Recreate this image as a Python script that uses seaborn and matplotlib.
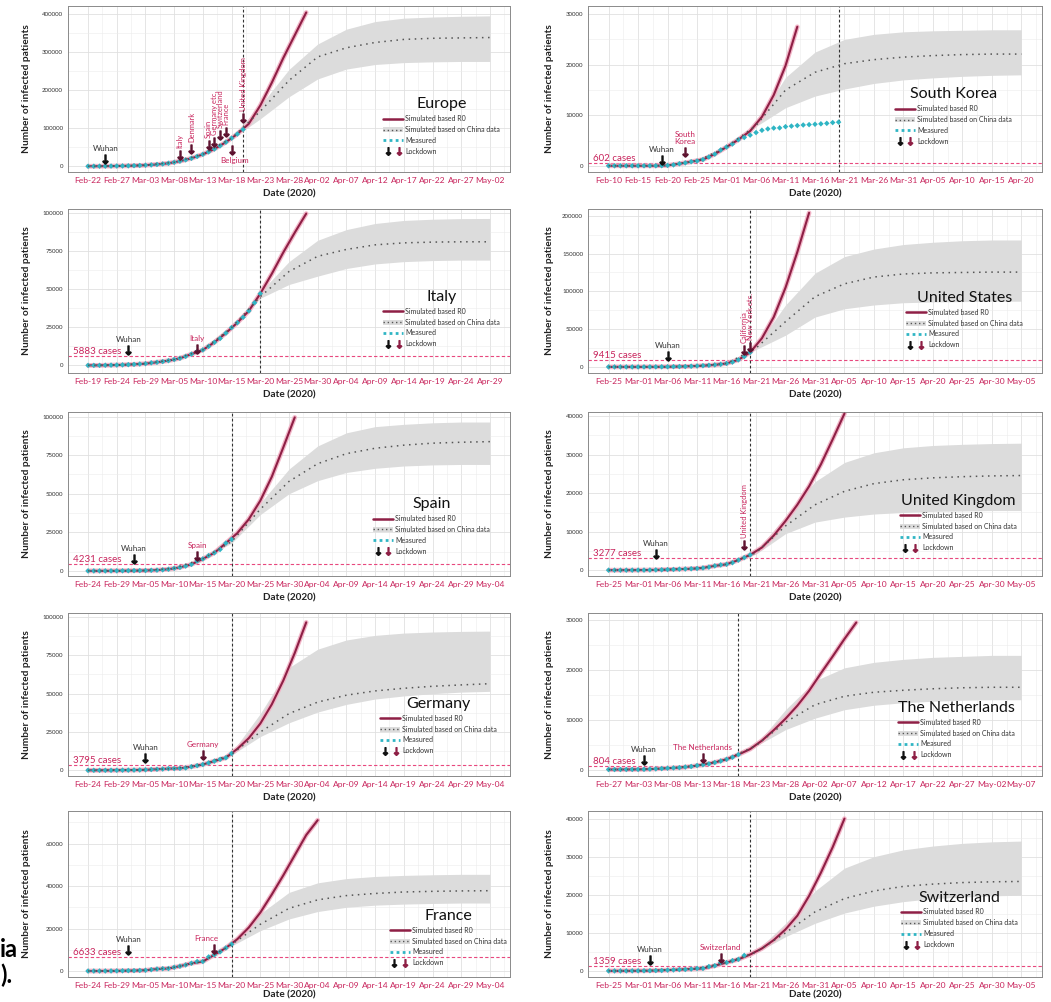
import pandas as pd
import numpy as np
import matplotlib
matplotlib.use("Agg")
import matplotlib.pyplot as plt
import matplotlib.dates as mdates
from matplotlib.lines import Line2D
from matplotlib.patches import Patch
from matplotlib.legend_handler import HandlerTuple
from matplotlib.ticker import FixedLocator, FuncFormatter
import seaborn as sns

# ---------------------------------------------------------------- data
LEGEND_LABELS = ["Simulated based R0", "Simulated based on China data", "Measured", "Lockdown"]
XLABEL = "Date (2020)"
YLABEL = "Number of infected patients"
LAST_DATA_DATE = "2020-03-20"
# measured: daily from tick start; R0 sim: every 2 days; China sim + band: every 5 days

EU_TICK_START = "2020-02-22"
EU_MEASURED = [150, 200, 300, 450, 600, 800, 1000, 1300, 1700, 2200, 2900, 3700, 4800, 6200, 8000,
               10500, 13500, 17000, 21000, 26000, 31500, 38000, 45500, 54000, 63500, 74000, 85000, 97000]
EU_R0 = [150, 300, 600, 1000, 1700, 2900, 4800, 8000, 13500, 21000, 31500, 45500, 63500, 85000,
         112000, 160000, 220000, 285000, 345000, 405000]
EU_CHINA = [150, 800, 2900, 10500, 31500, 74000, 145000, 226000, 288000, 312000, 326000, 334000, 337000, 338000, 339000]
EU_CHINA_LO = [150, 800, 2900, 10500, 31500, 72000, 125000, 183000, 230000, 256000, 268000, 273000, 275000, 276000, 276000]
EU_CHINA_HI = [150, 800, 2900, 10500, 31500, 78000, 160000, 255000, 322000, 361000, 381000, 390000, 393000, 395000, 396000]
EU_CASES = None
EU_LOCK_NAMES = ["Wuhan", "Italy", "Denmark", "Spain", "Germany etc.", "Switzerland", "France", "Belgium", "United Kingdom"]
EU_LOCK_DATES = ["2020-02-25", "2020-03-09", "2020-03-11", "2020-03-14", "2020-03-15", "2020-03-16",
                 "2020-03-17", "2020-03-18", "2020-03-20"]
EU_LOCK_Y = [19000, 30000, 45000, 56500, 65000, 82000, 91000, 43000, 126000]

SK_TICK_START = "2020-02-10"
SK_MEASURED = [27, 28, 28, 28, 28, 28, 29, 30, 31, 51, 104, 204, 433, 602, 833, 977, 1261, 1766, 2337, 3150,
               3736, 4335, 5186, 5621, 6088, 6593, 7041, 7314, 7478, 7513, 7755, 7869, 7979, 8086, 8162,
               8236, 8320, 8413, 8565, 8652]
SK_R0 = [27, 28, 28, 29, 31, 104, 433, 833, 1261, 2337, 3736, 5186, 6900, 9700, 14000, 19800, 27500]
SK_CHINA = [27, 28, 104, 977, 3736, 8000, 15000, 18500, 20200, 21000, 21500, 21800, 22000, 22100, 22100]
SK_CHINA_LO = [27, 28, 104, 977, 3736, 7800, 11500, 13800, 15200, 16300, 17000, 17400, 17700, 17900, 18000]
SK_CHINA_HI = [27, 28, 104, 977, 3736, 8300, 17500, 22500, 25000, 26000, 26500, 26700, 26800, 26900, 26900]
SK_CASES = 602
SK_LOCK_NAMES = ["Wuhan", "South\nKorea"]
SK_LOCK_DATES = ["2020-02-19", "2020-02-23"]
SK_LOCK_Y = [1260, 2800]

IT_TICK_START = "2020-02-19"
IT_MEASURED = [3, 3, 20, 79, 157, 229, 323, 470, 655, 889, 1128, 1694, 2036, 2502, 3089, 3858, 4636, 5883,
               7375, 9172, 10149, 12462, 15113, 17660, 21157, 24747, 27980, 31506, 35713, 41035, 47021]
IT_R0 = [3, 20, 157, 323, 655, 1128, 2036, 3089, 4636, 7375, 10149, 15113, 21157, 27980, 35713, 47021,
         60000, 74000, 87000, 99500]
IT_CHINA = [3, 229, 1128, 3858, 10149, 24747, 45000, 61500, 71500, 76000, 79000, 80300, 80800, 81000, 81000]
IT_CHINA_LO = [3, 229, 1128, 3858, 10149, 24747, 44000, 53000, 58500, 63500, 66500, 68000, 68700, 69000, 69000]
IT_CHINA_HI = [3, 229, 1128, 3858, 10149, 24747, 48000, 68000, 82000, 89000, 93000, 95000, 95800, 96200, 96300]
IT_CASES = 5883
IT_LOCK_NAMES = ["Wuhan", "Italy"]
IT_LOCK_DATES = ["2020-02-26", "2020-03-09"]
IT_LOCK_Y = [10300, 11000]

US_TICK_START = "2020-02-25"
US_MEASURED = [53, 57, 60, 60, 68, 74, 98, 118, 149, 217, 262, 402, 518, 583, 959, 1281, 1663, 2179, 2726,
               3499, 4632, 6421, 9415, 13747, 19273]
US_R0 = [53, 60, 68, 98, 149, 262, 518, 959, 1663, 2726, 4632, 9415, 19273, 38000, 66000, 105000, 152000, 204000]
US_CHINA = [53, 74, 262, 1281, 4632, 25000, 60000, 93000, 110000, 119000, 123000, 124500, 125000, 125500, 125500]
US_CHINA_LO = [53, 74, 262, 1281, 4632, 23000, 42000, 66000, 77000, 82000, 85000, 86000, 86500, 87000, 87000]
US_CHINA_HI = [53, 74, 262, 1281, 4632, 27000, 82000, 124000, 146000, 156000, 162000, 165000, 167000, 168000, 168000]
US_CASES = 9415
US_LOCK_NAMES = ["Wuhan", "California", "New York etc."]
US_LOCK_DATES = ["2020-03-06", "2020-03-19", "2020-03-20"]
US_LOCK_Y = [15000, 22000, 26500]

ES_TICK_START = "2020-02-24"
ES_MEASURED = [2, 6, 13, 15, 32, 45, 84, 120, 165, 222, 259, 400, 500, 673, 1073, 1695, 2277, 3146, 4231,
               6391, 7798, 9942, 11748, 13910, 17963, 20410]
ES_R0 = [2, 13, 32, 84, 165, 259, 500, 1073, 2277, 4231, 7798, 11748, 17963, 24500, 33500, 45500, 61000,
         80000, 99500]
ES_CHINA = [2, 45, 259, 1695, 7798, 19000, 40000, 58000, 69500, 76000, 79500, 81500, 82800, 83400, 83800]
ES_CHINA_LO = [2, 45, 259, 1695, 7798, 18000, 36500, 50000, 58500, 63800, 66500, 68000, 68700, 69000, 69000]
ES_CHINA_HI = [2, 45, 259, 1695, 7798, 20000, 44000, 66000, 81000, 89500, 93500, 95000, 96000, 96500, 96500]
ES_CASES = 4231
ES_LOCK_NAMES = ["Wuhan", "Spain"]
ES_LOCK_DATES = ["2020-03-03", "2020-03-14"]
ES_LOCK_Y = [7700, 9400]

UK_TICK_START = "2020-02-25"
UK_MEASURED = [13, 13, 15, 20, 23, 36, 40, 51, 85, 115, 163, 206, 273, 321, 382, 456, 590, 798, 1140, 1391,
               1543, 1950, 2626, 3277, 3983]
UK_R0 = [13, 15, 23, 40, 85, 163, 273, 382, 590, 1140, 1543, 2626, 3983, 5900, 9000, 12800, 17000, 21800,
         27500, 34000, 40700]
UK_CHINA = [13, 36, 163, 456, 1543, 4500, 11500, 17000, 20500, 22500, 23500, 24000, 24300, 24500, 24600]
UK_CHINA_LO = [13, 36, 163, 456, 1543, 4200, 9500, 12500, 13800, 14600, 15000, 15300, 15400, 15500, 15500]
UK_CHINA_HI = [13, 36, 163, 456, 1543, 4900, 14000, 23000, 28000, 30500, 31800, 32400, 32700, 32900, 33000]
UK_CASES = 3277
UK_LOCK_NAMES = ["Wuhan", "United Kingdom"]
UK_LOCK_DATES = ["2020-03-04", "2020-03-19"]
UK_LOCK_Y = [4200, 6500]

DE_TICK_START = "2020-02-24"
DE_MEASURED = [16, 17, 21, 26, 53, 66, 117, 150, 188, 240, 349, 534, 684, 847, 1112, 1139, 1296, 1567, 2369,
               3062, 3795, 4838, 6012, 7156, 8198, 10999]
DE_R0 = [16, 21, 53, 117, 188, 349, 684, 1112, 1296, 2369, 3795, 6012, 8198, 14000, 21000, 30500, 43000,
         58500, 76500, 96500]
DE_CHINA = [16, 66, 349, 1139, 3795, 10500, 25000, 37000, 44500, 49000, 51800, 53500, 54800, 55700, 56500]
DE_CHINA_LO = [16, 66, 349, 1139, 3795, 10000, 22000, 31000, 38000, 43000, 46500, 48500, 50000, 51000, 51500]
DE_CHINA_HI = [16, 66, 349, 1139, 3795, 11500, 37000, 67000, 79000, 85000, 88000, 89500, 90200, 90600, 90800]
DE_CASES = 3795
DE_LOCK_NAMES = ["Wuhan", "Germany"]
DE_LOCK_DATES = ["2020-03-05", "2020-03-15"]
DE_LOCK_Y = [8300, 10100]

NL_TICK_START = "2020-02-27"
NL_MEASURED = [1, 1, 6, 10, 18, 24, 38, 82, 128, 188, 265, 321, 382, 503, 614, 804, 959, 1135, 1413, 1705,
               2051, 2460, 2994]
NL_R0 = [1, 6, 18, 38, 128, 265, 382, 614, 959, 1413, 2051, 2994, 4100, 5800, 7900, 10200, 12800, 15800,
         19300, 22700, 26200, 29500]
NL_CHINA = [1, 24, 265, 804, 2051, 4800, 9500, 13000, 14700, 15500, 15900, 16200, 16400, 16500, 16500]
NL_CHINA_LO = [1, 24, 265, 804, 2051, 4700, 8000, 10300, 12000, 12900, 13400, 13700, 13900, 14000, 14000]
NL_CHINA_HI = [1, 24, 265, 804, 2051, 5000, 12000, 17800, 20400, 21500, 22100, 22500, 22700, 22900, 22900]
NL_CASES = 804
NL_LOCK_NAMES = ["Wuhan", "The Netherlands"]
NL_LOCK_DATES = ["2020-03-04", "2020-03-14"]
NL_LOCK_Y = [2000, 2400]

FR_TICK_START = "2020-02-24"
FR_MEASURED = [12, 14, 18, 38, 57, 100, 130, 191, 204, 285, 377, 653, 949, 1126, 1209, 1784, 2281, 2876,
               3661, 4469, 4499, 6633, 7652, 9043, 10871, 12612]
FR_R0 = [12, 18, 57, 130, 204, 377, 949, 1209, 2281, 3661, 4499, 7652, 10871, 15000, 20500, 27500, 36000,
         45000, 54500, 64000, 71000]
FR_CHINA = [12, 100, 377, 1784, 4499, 12500, 22000, 29500, 33500, 35500, 36500, 37200, 37500, 37700, 37800]
FR_CHINA_LO = [12, 100, 377, 1784, 4499, 11800, 19000, 24500, 28000, 30000, 31000, 31500, 31800, 32000, 32000]
FR_CHINA_HI = [12, 100, 377, 1784, 4499, 13200, 27000, 37000, 41500, 43500, 44500, 45000, 45300, 45500, 45500]
FR_CASES = 6633
FR_LOCK_NAMES = ["Wuhan", "France"]
FR_LOCK_DATES = ["2020-03-02", "2020-03-17"]
FR_LOCK_Y = [9800, 10300]

CH_TICK_START = "2020-02-25"
CH_MEASURED = [1, 1, 8, 8, 18, 27, 42, 56, 90, 114, 214, 268, 337, 374, 491, 652, 652, 1139, 1359, 2200,
               2200, 2700, 3028, 4075]
CH_R0 = [1, 8, 18, 42, 90, 214, 337, 491, 652, 1359, 2200, 3028, 4300, 5900, 8100, 10900, 14500, 19700,
         25800, 32500, 40000]
CH_CHINA = [1, 27, 214, 652, 2200, 4900, 10000, 15500, 19000, 21000, 22200, 22800, 23200, 23400, 23500]
CH_CHINA_LO = [1, 27, 214, 652, 2200, 4700, 9000, 12500, 15200, 17000, 18200, 19000, 19400, 19700, 19900]
CH_CHINA_HI = [1, 27, 214, 652, 2200, 5200, 12500, 21000, 27000, 30000, 31800, 32800, 33500, 33900, 34100]
CH_CASES = 1359
CH_LOCK_NAMES = ["Wuhan", "Switzerland"]
CH_LOCK_DATES = ["2020-03-03", "2020-03-15"]
CH_LOCK_Y = [2800, 3400]

# ---------------------------------------------------------------- style
CRIMSON = "#c8245c"
RED_LINE = "#8e1f45"
RED_HALO = "#f2b6c8"
GRAY_LINE = "#555555"
RIBBON = "#dcdcdc"
TEAL = "#2fb5c4"
ARROW = r"$\downarrow$"

sns.set_theme(style="white")
plt.rcParams["font.family"] = ["Lato", "DejaVu Sans"]

W, H = 1051, 1002
fig = plt.figure(figsize=(W / 100, H / 100), dpi=100)

COLS = [(68, 442), (588, 454)]
ROWS = [(6, 172), (209, 373), (412, 576), (613, 776), (811, 977)]

PANELS = [
    dict(name="Europe", start=EU_TICK_START, meas=EU_MEASURED, r0=EU_R0, ch=EU_CHINA, lo=EU_CHINA_LO,
         hi=EU_CHINA_HI, cases=EU_CASES, ylim=(-15000, 422000), ystep=100000,
         locks=(EU_LOCK_NAMES, EU_LOCK_DATES, EU_LOCK_Y),
         lstyle=["h", "v", "v", "v", "v", "v", "v", "below", "v"], leg=(0.713, 0.45)),
    dict(name="South Korea", start=SK_TICK_START, meas=SK_MEASURED, r0=SK_R0, ch=SK_CHINA, lo=SK_CHINA_LO,
         hi=SK_CHINA_HI, cases=SK_CASES, ylim=(-1200, 31600), ystep=10000,
         locks=(SK_LOCK_NAMES, SK_LOCK_DATES, SK_LOCK_Y), lstyle=["h", "h"], leg=(0.676, 0.51)),
    dict(name="Italy", start=IT_TICK_START, meas=IT_MEASURED, r0=IT_R0, ch=IT_CHINA, lo=IT_CHINA_LO,
         hi=IT_CHINA_HI, cases=IT_CASES, ylim=(-5000, 102500), ystep=25000,
         locks=(IT_LOCK_NAMES, IT_LOCK_DATES, IT_LOCK_Y), lstyle=["h", "h"], leg=(0.713, 0.506)),
    dict(name="United States", start=US_TICK_START, meas=US_MEASURED, r0=US_R0, ch=US_CHINA, lo=US_CHINA_LO,
         hi=US_CHINA_HI, cases=US_CASES, ylim=(-8000, 209000), ystep=50000,
         locks=(US_LOCK_NAMES, US_LOCK_DATES, US_LOCK_Y), lstyle=["h", "v", "v"], leg=(0.70, 0.50)),
    dict(name="Spain", start=ES_TICK_START, meas=ES_MEASURED, r0=ES_R0, ch=ES_CHINA, lo=ES_CHINA_LO,
         hi=ES_CHINA_HI, cases=ES_CASES, ylim=(-3300, 103000), ystep=25000,
         locks=(ES_LOCK_NAMES, ES_LOCK_DATES, ES_LOCK_Y), lstyle=["h", "h"], leg=(0.69, 0.48)),
    dict(name="United Kingdom", start=UK_TICK_START, meas=UK_MEASURED, r0=UK_R0, ch=UK_CHINA, lo=UK_CHINA_LO,
         hi=UK_CHINA_HI, cases=UK_CASES, ylim=(-1500, 41100), ystep=10000,
         locks=(UK_LOCK_NAMES, UK_LOCK_DATES, UK_LOCK_Y), lstyle=["h", "v"], leg=(0.687, 0.50)),
    dict(name="Germany", start=DE_TICK_START, meas=DE_MEASURED, r0=DE_R0, ch=DE_CHINA, lo=DE_CHINA_LO,
         hi=DE_CHINA_HI, cases=DE_CASES, ylim=(-3700, 102600), ystep=25000,
         locks=(DE_LOCK_NAMES, DE_LOCK_DATES, DE_LOCK_Y), lstyle=["h", "h"], leg=(0.706, 0.485)),
    dict(name="The Netherlands", start=NL_TICK_START, meas=NL_MEASURED, r0=NL_R0, ch=NL_CHINA, lo=NL_CHINA_LO,
         hi=NL_CHINA_HI, cases=NL_CASES, ylim=(-1300, 31400), ystep=10000,
         locks=(NL_LOCK_NAMES, NL_LOCK_DATES, NL_LOCK_Y), lstyle=["h", "h"], leg=(0.683, 0.46)),
    dict(name="France", start=FR_TICK_START, meas=FR_MEASURED, r0=FR_R0, ch=FR_CHINA, lo=FR_CHINA_LO,
         hi=FR_CHINA_HI, cases=FR_CASES, ylim=(-2800, 75300), ystep=20000,
         locks=(FR_LOCK_NAMES, FR_LOCK_DATES, FR_LOCK_Y), lstyle=["h", "hl"], leg=(0.728, 0.41)),
    dict(name="Switzerland", start=CH_TICK_START, meas=CH_MEASURED, r0=CH_R0, ch=CH_CHINA, lo=CH_CHINA_LO,
         hi=CH_CHINA_HI, cases=CH_CASES, ylim=(-1600, 42000), ystep=10000,
         locks=(CH_LOCK_NAMES, CH_LOCK_DATES, CH_LOCK_Y), lstyle=["h", "h"], leg=(0.69, 0.52)),
]


def draw(ax, p, col, last_row):
    start = pd.Timestamp(p["start"])
    ticks = pd.date_range(start, periods=15, freq="5D")
    df_meas = pd.DataFrame({"date": pd.date_range(start, periods=len(p["meas"]), freq="D"), "cases": p["meas"]})
    df_r0 = pd.DataFrame({"date": pd.date_range(start, periods=len(p["r0"]), freq="2D"), "cases": p["r0"]})
    df_ch = pd.DataFrame({"date": pd.date_range(start, periods=len(p["ch"]), freq="5D"),
                          "cases": p["ch"], "lo": p["lo"], "hi": p["hi"]})

    ax.fill_between(df_ch["date"], df_ch["lo"], df_ch["hi"], color=RIBBON, lw=0, zorder=1)
    if p["cases"] is not None:
        ax.axhline(p["cases"], color="#e8487e", lw=0.8, linestyle=(0, (3, 2)), zorder=1.5)
        ax.text(0.012, p["cases"], f"{p['cases']} cases", transform=ax.get_yaxis_transform(),
                color=CRIMSON, fontsize=7, va="bottom", ha="left", zorder=8)
    ax.axvline(pd.Timestamp(LAST_DATA_DATE), color="#333333", lw=0.8, linestyle=(0, (2.5, 2)), zorder=1.5)

    sns.lineplot(data=df_r0, x="date", y="cases", ax=ax, color=RED_HALO, linewidth=3.4, zorder=2)
    sns.lineplot(data=df_r0, x="date", y="cases", ax=ax, color=RED_LINE, linewidth=1.5, zorder=3)
    sns.scatterplot(data=df_meas, x="date", y="cases", ax=ax, color=TEAL, marker="D", s=8,
                    edgecolor="none", zorder=4)
    sns.lineplot(data=df_ch, x="date", y="cases", ax=ax, color=GRAY_LINE, linewidth=1.1,
                 linestyle=(0, (1, 3)), zorder=5)

    names, dates, ys = p["locks"]
    for nm, dt, yv, st in zip(names, dates, ys, p["lstyle"]):
        xd = mdates.date2num(pd.Timestamp(dt))
        mcol = "#111111" if nm == "Wuhan" else "#5e1330"
        tcol = "#333333" if nm == "Wuhan" else CRIMSON
        ax.plot([pd.Timestamp(dt)], [yv], marker=ARROW, ms=6.5, color=mcol, linestyle="none", zorder=7)
        if st == "v":
            ax.annotate(nm, (xd, yv), xytext=(0, 5), textcoords="offset points", rotation=90,
                        ha="center", va="bottom", fontsize=5.4, color=tcol, zorder=8)
        elif st == "below":
            ax.annotate(nm, (xd, yv), xytext=(2, -5), textcoords="offset points",
                        ha="center", va="top", fontsize=5.8, color=tcol, zorder=8)
        elif st == "hl":
            ax.annotate(nm, (xd, yv), xytext=(-6, 5), textcoords="offset points",
                        ha="center", va="bottom", fontsize=5.8, color=tcol, zorder=8)
        else:
            ax.annotate(nm, (xd, yv), xytext=(0, 5), textcoords="offset points",
                        ha="center", va="bottom", fontsize=5.8, color=tcol, zorder=8,
                        linespacing=0.9)

    # axes
    ax.set_xlim(start - pd.Timedelta(days=3.5), ticks[-1] + pd.Timedelta(days=3.5))
    ax.set_xticks(ticks)
    ax.set_xticklabels([d.strftime("%b-%d") for d in ticks])
    ax.xaxis.set_minor_locator(FixedLocator(mdates.date2num(ticks + pd.Timedelta(hours=60))))
    ylo, yhi = p["ylim"]
    ax.set_ylim(ylo, yhi)
    yt = np.arange(0, yhi, p["ystep"])
    ax.set_yticks(yt)
    ax.yaxis.set_minor_locator(FixedLocator(yt + p["ystep"] / 2))
    ax.yaxis.set_major_formatter(FuncFormatter(lambda v, pos: f"{int(round(v))}"))
    ax.set_axisbelow(True)
    ax.grid(which="major", color="#e0e0e0", lw=0.6)
    ax.grid(which="minor", color="#ececec", lw=0.4)
    ax.tick_params(axis="x", which="major", labelsize=6.1, labelcolor=CRIMSON, length=2, width=0.5,
                   color="#999999", pad=1.5)
    ax.tick_params(axis="y", which="major", labelsize=4.4, labelcolor="#333333", length=2, width=0.5,
                   color="#999999", pad=1.5)
    ax.tick_params(which="minor", length=0)
    for s in ax.spines.values():
        s.set_color("#8a8a8a")
        s.set_linewidth(0.7)
    ax.set_xlabel(XLABEL, fontsize=7.2, fontweight="bold", color="#222222")
    ax.set_ylabel(YLABEL, fontsize=7.3, fontweight="bold", color="#222222")
    ax.xaxis.set_label_coords(0.5, -0.082 if last_row else -0.105)
    ax.yaxis.set_label_coords(-0.083 if col == 0 else -0.075, 0.5)

    # legend
    h_red = Line2D([], [], color=RED_LINE, lw=1.8)
    h_gray = (Patch(facecolor=RIBBON, edgecolor="none"),
              Line2D([], [], color=GRAY_LINE, lw=1.0, linestyle=(0, (1, 2))))
    h_meas = Line2D([], [], color=TEAL, lw=2.0, linestyle=(0, (1, 1.2)))
    h_lock = (Line2D([], [], color="#111111", marker=ARROW, linestyle="none", ms=5.5),
              Line2D([], [], color="#8e1f45", marker=ARROW, linestyle="none", ms=5.5))
    leg = ax.legend([h_red, h_gray, h_meas, h_lock], LEGEND_LABELS,
                    handler_map={h_gray: HandlerTuple(ndivide=1), h_lock: HandlerTuple(ndivide=None, pad=0.2)},
                    title=p["name"], title_fontsize=11.5, fontsize=5.0, loc="upper left",
                    bbox_to_anchor=p["leg"], frameon=False, handlelength=2.9, handletextpad=0.3,
                    labelspacing=0.55, borderpad=0, borderaxespad=0)
    for t in leg.get_texts():
        t.set_color("#333333")
    leg.get_title().set_color("#111111")
    leg.set_zorder(9)


for i, p in enumerate(PANELS):
    r, c = divmod(i, 2)
    x0, w = COLS[c]
    top, bot = ROWS[r]
    ax = fig.add_axes([x0 / W, 1 - bot / H, w / W, (bot - top) / H])
    draw(ax, p, c, r == len(ROWS) - 1)

# fragments of surrounding page text (cropped)
fig.text(0.0, 1 - 957 / H, "ia", fontsize=17, fontweight="bold", ha="left", va="baseline", color="black")
fig.text(0.0, 1 - 983 / H, ").", fontsize=17, fontweight="bold", ha="left", va="baseline", color="black")

fig.savefig("out.png", dpi=100)
